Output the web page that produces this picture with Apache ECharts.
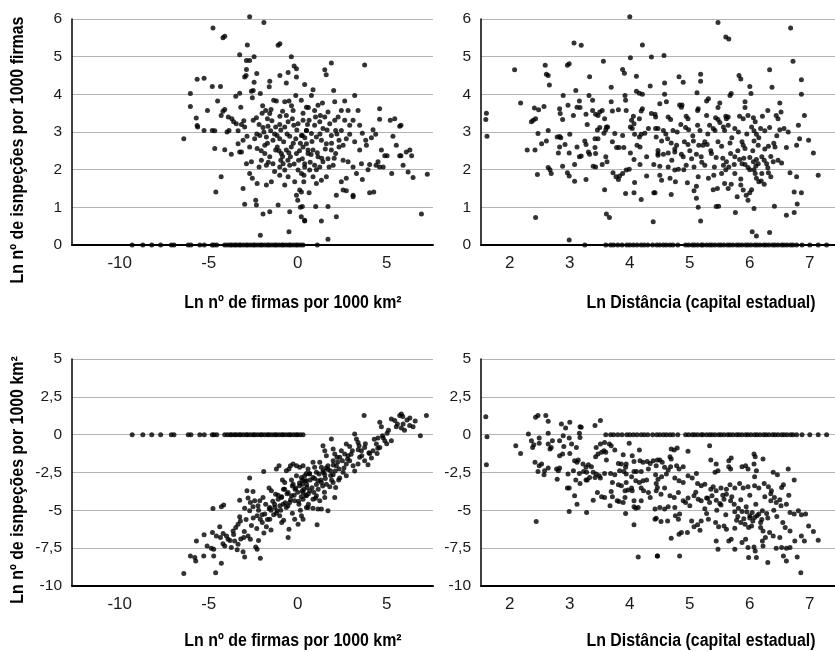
<!DOCTYPE html>
<html>
<head>
<meta charset="utf-8">
<title>Inspeções - dispersão</title>
<script src="https://cdn.jsdelivr.net/npm/echarts@6/dist/echarts.min.js"></script>
<style>
  html, body { margin: 0; padding: 0; background: #fff; }
  #chart { width: 835px; height: 652px; }
</style>
</head>
<body>
<div id="chart"></div>
<script>
// tick labels
const firmasTicks = [-10, -5, 0, 5];
const distTicks = [2, 3, 4, 5, 6, 7];

// x of the municipalities with zero inspections (drawn on the 0 line)
const zeroFirmas = [-9.3, -8.7, -8.2, -7.7, -7.1, -6.95, -6.15, -6.0, -5.5, -5.25, -4.8, -4.7, -4.55, -4.1, -3.95, -3.8, -3.7, -3.55, -3.45, -3.3, -3.2, -3.05, -2.9, -2.8, -2.65, -2.5, -2.4, -2.25, -2.1, -2.0, -1.85, -1.7, -1.6, -1.45, -1.3, -1.2, -1.05, -0.9, -0.8, -0.65, -0.5, -0.4, -0.25, -0.1, 0.0, 0.15, 0.3];
const zeroDist = [3.6, 3.68, 3.73, 3.8, 3.87, 3.95, 4.0, 4.06, 4.12, 4.19, 4.24, 4.3, 4.38, 4.45, 4.5, 4.56, 4.61, 4.67, 4.72, 4.8, 4.93, 4.98, 5.04, 5.08, 5.13, 5.19, 5.22, 5.28, 5.33, 5.37, 5.42, 5.48, 5.52, 5.57, 5.63, 5.67, 5.72, 5.78, 5.82, 5.87, 5.93, 5.97, 6.02, 6.08, 6.12, 6.17, 6.23, 6.27, 6.32, 6.38, 6.42, 6.47, 6.53, 6.57, 6.62, 6.68, 6.72, 6.78, 6.87, 7.0, 7.14, 7.28];

// Ln firmas por 1000 km2 x Ln inspecoes por 1000 firmas
const firmasInspFirmas = [
  [-2.7,6.06],[-1.9,5.91],[-4.76,5.76],[-4.2,5.5],[-4.1,5.54],[-2.83,5.31],[-1.0,5.34],[-1.1,5.3],[-3.26,5.05],[-2.45,5.0],
  [-2.88,4.9],[-2.7,4.9],[-0.36,5.0],[-0.2,4.75],[-0.07,4.68],[-2.88,4.66],[-2.3,4.55],[-2.98,4.46],[-2.9,4.5],[-0.54,4.58],
  [-1.0,4.5],[-5.65,4.4],[-5.26,4.43],[-4.8,4.21],[-4.34,4.21],[-2.45,4.32],[-1.57,4.35],[-1.6,4.2],[-0.64,4.3],[-0.07,4.46],
  [-2.6,4.08],[-2.5,4.1],[-3.26,4.03],[-3.48,3.95],[-2.1,4.02],[-6.03,4.02],[-6.03,3.68],[-4.5,3.82],[-3.2,3.66],[-5.07,3.57],
  [-4.2,3.55],[-4.1,3.6],[-4.3,3.44],[-5.7,3.37],[-5.65,3.17],[-5.62,3.13],[-5.26,3.04],[-4.8,3.04],[-4.66,3.03],[-6.4,2.82],
  [-3.9,3.4],[-3.7,3.35],[-3.6,3.27],[-3.45,3.22],[-3.86,3.04],[-3.97,3.0],[-3.16,3.2],[-3.03,3.3],[-4.66,2.56],[-4.1,2.53],
  [-3.73,2.41],[-3.35,2.69],[-3.26,2.47],[-3.16,2.47],[-4.3,1.81],[-4.6,1.41],[-3.07,1.5],[-2.98,1.08],[-2.36,1.19],[-2.32,1.06],
  [-1.95,0.82],[-1.57,0.88],[-2.1,0.26],[-0.49,0.35],[-0.45,0.88],[-1.1,1.06],[0.0,1.19],[0.15,1.0],[0.2,0.75],[0.39,0.64],
  [-2.55,3.91],[-1.97,3.7],[-1.8,3.57],[-1.35,3.84],[-1.2,3.82],[-0.73,3.8],[-0.49,3.82],[-0.11,3.97],[-0.26,3.57],[-0.64,3.44],
  [-1.0,3.42],[-1.57,3.49],[-1.7,3.35],[-2.32,3.38],[-2.5,3.31],[-2.17,3.2],[-1.95,3.12],[-1.67,3.15],[-1.52,3.03],[-1.24,3.13],
  [-1.01,3.2],[-0.73,3.13],[-0.54,3.27],[-0.22,3.18],[0.02,3.22],[0.3,3.31],[0.49,3.04],[0.21,2.91],[-0.11,2.82],[-0.45,2.89],
  [-0.79,2.74],[-1.01,2.82],[-1.39,2.78],[-1.76,2.87],[-2.13,2.91],[-2.42,2.82],[-2.7,2.6],[-2.28,2.56],[-1.85,2.43],[-1.57,2.34],
  [-1.24,2.52],[-0.92,2.43],[-0.64,2.52],[-0.41,2.34],[-0.07,2.43],[0.26,2.29],[0.58,2.52],[0.39,2.07],[0.02,1.99],[-0.45,2.12],
  [-0.73,1.99],[-1.01,2.07],[-1.39,2.16],[-1.76,2.12],[-2.04,2.25],[-2.6,2.21],[-2.88,2.16],[-2.7,1.9],[-2.55,1.77],[-2.28,1.63],
  [-1.76,1.59],[-1.48,1.68],[-1.01,1.85],[-0.73,1.59],[-0.54,1.81],[-0.17,1.68],[0.11,1.46],[-0.07,1.32],[-2.17,2.07],[-1.85,2.65],
  [-1.16,2.91],[-0.36,2.6],[-0.82,2.16],[0.49,2.69],[-3.35,3.03],[-2.98,3.13],[-2.85,2.89],[-3.07,2.78],
  [1.89,4.83],[3.76,4.78],[1.52,4.65],[1.6,4.52],[0.39,4.26],[0.86,4.12],[2.02,4.1],[3.2,3.97],[1.39,3.77],[2.08,3.8],
  [2.64,3.82],[4.6,3.62],[4.6,3.34],[5.2,3.31],[5.45,3.35],[5.73,3.15],[5.8,3.18],[5.35,2.89],[4.23,3.06],[4.38,2.94],
  [5.54,2.65],[6.1,2.47],[6.3,2.52],[5.8,2.37],[5.73,2.37],[6.4,2.37],[5.92,2.12],[6.2,1.94],[6.48,1.79],[7.28,1.88],
  [5.28,1.9],[4.8,2.07],[4.6,2.07],[4.4,2.12],[4.04,2.14],[3.95,2.0],[3.58,2.16],[3.63,1.74],[4.04,1.39],[4.27,1.41],
  [3.11,1.32],[3.11,1.28],[2.55,1.46],[2.73,1.44],[2.17,1.32],[6.95,0.82],[2.17,0.75],[1.33,0.64],[1.7,0.15],[1.01,1.02],
  [1.7,1.02],[0.64,1.39],[0.39,0.66],[0.26,1.02],[1.1,0],
  [0.2,3.84],[0.49,3.66],[0.77,3.97],[0.95,3.57],[1.14,3.71],[1.27,3.44],[1.52,3.4],[1.7,3.53],[1.8,3.22],[2.08,3.31],
  [2.27,3.4],[2.45,3.57],[2.64,3.31],[2.83,3.57],[2.92,3.18],[3.11,3.31],[3.39,3.57],[3.48,3.18],[3.63,2.97],[3.82,2.78],
  [3.86,2.65],[2.92,2.94],[2.73,2.82],[2.55,2.65],[2.32,2.6],[2.13,2.43],[1.89,2.52],[1.61,2.69],[1.33,2.78],[1.05,2.87],
  [0.77,2.96],[0.49,3.04],[0.26,2.91],[0.3,2.6],[0.58,2.43],[0.86,2.52],[1.14,2.34],[1.42,2.21],[1.7,2.29],[1.99,2.12],
  [1.76,2.07],[1.24,2.07],[0.95,2.12],[0.67,1.99],[0.39,2.16],[0.21,1.9],[0.34,1.68],[0.86,1.81],[1.05,1.63],[1.33,1.72],
  [1.61,1.81],[0.21,1.41],[2.55,2.25],[2.83,2.21],[3.11,2.07],[3.3,1.9],[2.45,1.68],[2.73,1.77],[4.7,2.52],[4.89,2.37],
  [5.02,2.37],[4.51,2.21],[4.14,2.85],[3.48,2.52],[3.2,2.74],[1.89,2.91],[1.42,3.09],[2.13,3.04],[2.45,3.04],[2.32,2.78],
  [0.64,3.31],[0.95,3.18],[1.24,3.27],
  [-1.9,3.0],[-1.7,2.7],[-1.45,3.3],[-1.3,2.95],[-1.15,2.6],[-0.95,3.05],[-0.85,2.35],[-0.6,2.95],[-0.5,2.45],[-0.3,3.35],
  [-0.25,2.7],[-0.05,3.05],[0.05,2.25],[0.15,2.7],[0.4,2.85],[0.55,3.2],[0.7,2.2],[0.8,2.75],[1.0,3.4],[1.1,2.45],
  [1.25,2.95],[1.35,2.3],[1.55,2.55],[1.65,3.05],[1.9,2.7],[2.05,2.3],[2.2,2.95],[-2.3,2.95],[-2.05,2.5],[-1.65,2.2],
  [-1.3,1.95],[-0.95,2.25],[-0.55,2.25],[-0.2,2.15],[0.1,2.5],[0.35,1.85],[0.75,2.4],[1.05,2.0],[-1.5,3.6],[-0.85,3.55],
  [-0.35,3.7],[0.3,3.5],[0.6,3.65],[-2.0,3.5],[-1.05,2.5]
];

// Ln distancia x Ln inspecoes por 1000 firmas
const distInspFirmas = [
  [4.0,6.06],[3.07,5.36],[3.19,5.3],[4.21,5.31],[2.08,4.65],[2.59,4.77],[2.96,4.77],[2.99,4.81],[2.61,4.53],[2.64,4.5],
  [2.66,4.25],[3.56,4.88],[3.88,4.66],[3.91,4.56],[4.01,4.97],[4.36,4.99],[3.33,4.47],[4.11,4.48],[4.34,4.22],[3.69,4.19],
  [3.1,4.1],[2.89,3.97],[3.32,3.97],[3.92,3.97],[4.11,4.08],[4.16,4.03],[4.21,4.0],[2.18,3.77],[1.61,3.5],[1.6,3.33],
  [1.62,2.89],[2.41,3.64],[2.48,3.59],[2.57,3.68],[2.39,3.31],[2.43,3.35],[2.36,3.27],[2.83,3.62],[2.84,3.49],[2.88,3.33],
  [2.97,3.71],[3.06,3.44],[3.12,3.66],[3.17,3.65],[3.16,3.82],[3.27,3.47],[3.29,3.2],[3.38,3.84],[3.38,3.57],[3.43,3.47],
  [3.47,3.44],[3.5,3.53],[3.54,3.57],[3.58,3.35],[3.63,3.13],[3.6,3.06],[3.69,3.8],[3.71,3.56],[3.81,3.59],[3.93,3.84],
  [3.94,3.57],[4.03,3.31],[4.06,3.42],[4.07,3.22],[4.16,3.35],[4.21,3.62],[4.19,3.56],[4.36,3.49],[4.42,3.47],[2.47,2.96],
  [2.64,3.04],[2.79,2.87],[2.85,2.85],[2.83,2.88],[3.0,2.94],[2.53,2.69],[2.61,2.76],[2.42,2.52],[2.29,2.52],[2.83,2.6],
  [2.92,2.67],[2.81,2.44],[2.99,2.44],[3.12,2.6],[3.16,2.34],[3.19,2.36],[3.25,2.76],[3.27,2.67],[3.31,2.47],[3.33,2.41],
  [3.43,2.43],[3.42,2.82],[3.46,3.05],[3.5,3.12],[3.57,2.97],[3.61,3.13],[3.42,2.59],[3.47,2.82],[3.75,2.96],[3.71,2.74],
  [3.78,2.59],[3.82,2.59],[3.9,2.59],[3.88,2.91],[4.01,3.13],[4.04,3.09],[4.08,2.94],[4.16,2.87],[4.19,2.94],[4.25,2.97],
  [4.17,2.6],[4.12,2.65],[4.01,2.44],[4.07,2.27],[4.17,2.14],[3.6,2.34],[3.62,2.21],[3.54,2.14],[3.39,2.09],[3.43,2.07],
  [3.08,2.14],[2.88,2.09],[2.64,2.06],[2.67,2.0],[2.69,1.9],[2.46,1.87],[2.96,1.92],[2.99,1.83],[3.08,1.69],[3.27,1.74],
  [3.58,1.47],[3.72,1.92],[3.77,1.81],[3.81,1.74],[3.83,1.83],[3.88,1.9],[3.94,1.99],[3.99,2.01],[3.93,1.37],[4.07,1.39],
  [4.08,1.66],[4.19,1.21],[4.28,1.83],[4.4,2.14],[4.4,1.39],[4.39,0.62],[2.43,0.73],[3.61,0.82],[3.66,0.73],[2.99,0.13],
  [4.28,2.34],[4.44,2.87],[4.43,3.09],[4.31,3.09],[4.47,2.51],[4.47,2.38],[3.25,0],
  [5.47,5.91],[5.6,5.52],[5.65,5.47],[6.68,5.76],[4.57,5.03],[6.72,4.88],[5.18,4.53],[5.18,4.35],[4.82,4.47],[4.89,4.32],
  [4.58,4.3],[5.82,4.5],[5.85,4.41],[6.33,4.65],[6.86,4.39],[6.37,4.19],[6.0,4.21],[6.02,4.02],[5.67,3.97],[5.69,4.02],
  [5.12,4.04],[4.58,4.0],[6.86,4.0],[4.5,3.75],[4.61,3.8],[5.31,3.88],[5.28,3.82],[5.5,3.77],[5.47,3.65],[4.83,3.72],
  [4.86,3.66],[4.87,3.72],[5.14,3.62],[5.13,3.57],[5.92,3.8],[5.92,3.65],[6.5,3.77],[6.52,3.53],[4.43,3.4],[4.64,3.4],
  [4.68,3.33],[4.94,3.42],[4.97,3.35],[5.28,3.44],[5.43,3.38],[5.47,3.33],[5.6,3.42],[5.61,3.35],[5.64,3.4],[5.83,3.42],
  [5.89,3.35],[5.97,3.44],[6.06,3.38],[6.09,3.27],[6.21,3.42],[6.3,3.57],[6.44,3.44],[6.47,3.35],[6.91,3.44],[6.81,3.18],
  [4.47,3.09],[4.56,3.04],[4.72,3.04],[4.79,3.0],[4.93,3.12],[4.98,3.06],[5.13,3.18],[5.17,3.04],[5.33,3.18],[5.39,3.09],
  [5.42,3.04],[5.56,3.13],[5.58,3.04],[5.64,3.18],[5.75,3.09],[5.81,3.0],[6.03,3.13],[6.07,3.03],[6.11,2.94],[6.18,3.09],
  [6.25,3.03],[6.33,3.12],[6.5,3.06],[6.57,3.09],[6.64,3.0],[6.83,2.82],[6.98,2.78],[6.78,2.65],[7.06,2.44],[4.53,2.76],
  [4.63,2.82],[4.69,2.71],[4.78,2.65],[4.91,2.74],[4.97,2.67],[5.06,2.76],[5.22,2.65],[5.25,2.74],[5.29,2.67],[5.47,2.74],
  [5.53,2.62],[5.67,2.71],[5.68,2.43],[5.87,2.74],[5.89,2.65],[5.92,2.56],[6.07,2.76],[6.14,2.65],[6.31,2.62],[6.42,2.6],
  [6.61,2.59],[4.47,2.43],[4.56,2.41],[4.64,2.44],[4.75,2.47],[4.86,2.41],[4.89,2.34],[5.03,2.29],[5.11,2.41],[5.19,2.34],
  [5.36,2.43],[5.44,2.32],[5.75,2.34],[5.83,2.27],[5.87,2.16],[6.0,2.32],[6.06,2.21],[6.11,2.27],[6.14,2.16],[6.2,2.34],
  [6.24,2.25],[6.28,2.16],[6.39,2.21],[6.47,2.25],[6.53,2.18],[4.5,2.09],[4.64,2.07],[4.75,1.99],[4.81,2.01],[4.94,2.12],
  [5.07,2.07],[5.25,2.12],[5.41,2.07],[5.56,2.12],[5.61,2.21],[5.65,2.07],[5.74,2.14],[5.92,2.14],[5.97,2.06],[6.07,2.0],
  [6.09,1.9],[6.31,1.92],[6.35,1.81],[6.67,1.92],[6.78,1.81],[7.14,1.85],[4.5,1.85],[4.53,1.72],[4.67,1.77],[4.76,1.68],
  [4.96,1.65],[5.11,1.56],[5.14,1.81],[5.31,1.77],[5.39,1.47],[5.46,1.5],[5.53,1.9],[5.58,1.63],[5.64,1.5],[5.69,1.61],
  [5.75,1.9],[5.79,1.28],[5.85,1.59],[5.89,1.46],[5.94,1.32],[5.97,1.19],[6.0,1.39],[6.03,1.47],[6.11,1.77],[6.15,1.68],
  [6.19,1.7],[6.24,1.61],[5.07,1.44],[5.11,1.24],[5.14,1.0],[4.69,1.34],[4.42,1.39],[5.18,0.64],[5.44,1.02],[5.48,1.03],
  [5.76,0.86],[6.07,0.97],[6.41,1.03],[6.61,0.79],[6.74,0.86],[6.79,1.09],[6.74,1.41],[6.86,1.39],[6.04,0.35],[6.11,0.24],
  [6.33,0.33],
  [4.6,2.95],[4.75,2.55],[4.85,3.2],[5.0,2.5],[5.05,2.9],[5.2,2.2],[5.3,2.95],[5.35,2.5],[5.5,3.25],[5.55,2.3],
  [5.7,2.85],[5.8,2.5],[5.95,2.95],[6.0,2.0],[6.05,2.5],[6.15,2.85],[6.2,1.9],[6.25,2.55],[6.35,2.35],[6.45,2.9],
  [5.4,1.85],[5.85,1.75],[6.1,2.1],[6.3,2.05],[4.9,2.0],[5.15,2.65],[5.6,2.0],[5.9,2.3],[6.4,2.7],[4.7,2.25]
];

// Ln firmas por 1000 km2 x Ln inspecoes por 1000 km2
const firmasInspKm = [
  [-6.4,-9.18],[-4.61,-9.12],[-6.03,-8.01],[-5.78,-8.12],[-5.73,-8.34],[-5.28,-8.01],[-4.72,-8.01],[-4.29,-8.5],[-5.69,-7.02],[-5.26,-6.62],
  [-5.09,-7.35],[-4.85,-7.51],[-4.72,-7.57],[-4.79,-6.47],[-4.38,-6.09],[-4.57,-6.69],[-4.34,-6.8],[-4.19,-6.53],[-4.1,-7.35],[-3.73,-7.46],
  [-3.91,-6.91],[-4.0,-6.69],[-3.63,-6.36],[-3.48,-6.14],[-3.35,-5.92],[-3.22,-5.7],[-3.26,-5.43],[-3.03,-6.8],[-2.79,-6.69],[-2.66,-6.91],
  [-3.07,-7.73],[-2.98,-8.08],[-3.35,-7.24],[-3.54,-7.02],[-2.36,-7.42],[-2.28,-7.57],[-2.1,-8.17],[-4.76,-4.88],[-4.29,-4.77],[-4.16,-4.64],
  [-2.7,-2.87],[-3.26,-4.33],[-2.85,-3.71],[-2.51,-3.75],[-2.79,-4.19],[-2.66,-4.48],[-2.42,-4.37],[-2.98,-4.86],[-2.7,-5.03],[-2.51,-4.77],
  [-2.23,-4.7],[-2.13,-4.37],[-1.95,-4.15],[-2.28,-5.36],[-2.1,-5.59],[-1.85,-5.25],[-1.99,-5.81],[-1.76,-6.09],[-1.57,-5.59],[-1.35,-5.3],
  [-1.16,-5.03],[-1.91,-2.43],[-1.61,-3.53],[-1.48,-3.71],[-1.24,-3.93],[-1.1,-4.26],[-0.92,-4.15],[-1.2,-2.27],[-1.05,-2.05],[-0.86,-3.0],
  [-0.73,-3.16],[-0.64,-2.38],[-0.49,-2.27],[-0.41,-2.05],[-0.26,-1.94],[-0.07,-2.05],[0.11,-2.16],[0.3,-2.05],[-0.73,-3.6],[-0.54,-3.82],
  [-0.36,-4.04],[-0.82,-4.59],[-0.64,-4.81],[-0.45,-4.48],[-1.29,-4.81],[-1.57,-4.81],[-1.01,-5.36],[-0.79,-5.65],[-0.49,-6.25],[-0.54,-6.8],
  [-0.17,-5.59],[0.02,-5.92],[-0.26,-3.27],[-0.11,-3.53],[0.11,-3.38],[0.26,-3.71],[0.39,-3.05],[0.52,-3.49],[-0.17,-4.37],[0.07,-4.59],
  [0.3,-4.26],[0.49,-4.81],[-0.07,-2.72],[0.21,-2.83],[0.49,-2.56],
  [3.73,1.26],[7.23,1.26],[4.61,0.82],[4.7,0.53],[5.26,1.04],[5.45,0.93],[5.73,1.26],[5.82,1.37],[5.54,0.53],[5.82,0.44],
  [5.92,0.71],[6.14,0.97],[6.29,0.6],[6.48,0.53],[6.89,-0.07],[1.89,-0.29],[3.2,0.04],[3.3,-0.29],[3.39,-0.51],[3.45,-0.73],
  [3.58,-1.06],[3.76,-0.84],[4.51,-0.22],[4.76,-0.07],[4.89,-0.4],[4.42,-0.62],[4.61,-0.84],[4.23,-1.06],[4.46,-1.24],[5.02,0.09],
  [5.26,-0.4],[4.04,-1.24],[4.14,-1.55],[2.73,-0.62],[2.92,-0.79],[3.07,-1.06],[2.45,-1.06],[2.64,-1.28],[2.83,-1.39],[2.36,-1.5],
  [2.51,-1.72],[2.73,-1.94],[2.92,-1.72],[3.11,-2.05],[3.39,-1.94],[3.48,-1.5],[3.76,-1.72],[3.95,-1.99],[1.99,-0.95],[2.08,-1.28],
  [2.21,-1.5],[1.42,-0.73],[1.52,-1.06],[1.61,-1.39],[1.99,-1.72],[2.17,-2.05],[2.32,-2.27],[1.7,-2.05],[1.84,-2.38],[1.99,-2.65],
  [1.24,-1.83],[1.33,-2.16],[1.42,-2.38],[1.52,-2.65],[0.86,-1.83],[0.95,-2.16],[1.05,-2.49],[0.58,-2.27],[0.67,-2.56],[0.86,-2.83],
  [1.14,-3.05],[0.39,-2.72],[0.49,-3.05],[0.26,-3.27],[1.33,-3.16],[1.61,-3.27],[1.8,-3.44],[1.99,-3.16],[2.13,-3.49],[2.36,-2.87],
  [2.55,-2.49],[2.73,-2.72],[0.3,-3.82],[0.49,-4.04],[0.67,-3.71],[0.86,-4.26],[1.05,-4.04],[1.24,-4.37],[1.52,-4.15],[1.7,-5.03],
  [2.08,-4.15],[0.58,-4.81],[0.86,-4.86],[1.14,-4.92],[1.33,-4.92],[0.21,-5.36],[0.3,-5.59],[1.09,-5.96],
  [-1.8,-4.6],[-1.6,-4.9],[-1.4,-4.4],[-1.2,-5.2],[-1.0,-4.7],[-0.9,-4.1],[-0.7,-4.5],[-0.6,-3.9],[-0.4,-4.3],[-0.3,-3.4],
  [-0.2,-4.0],[0.0,-3.8],[0.1,-3.2],[0.2,-4.1],[0.35,-3.6],[0.5,-3.3],[0.6,-3.9],[0.7,-3.0],[0.8,-3.5],[0.95,-2.9],
  [1.05,-3.3],[1.2,-2.6],[1.3,-3.0],[1.45,-2.5],[1.55,-2.9],[1.7,-2.3],[1.85,-2.7],[2.0,-2.0],[2.1,-2.4],[2.25,-1.8],
  [-2.2,-5.0],[-2.0,-5.3],[-1.7,-5.6],[-1.5,-5.0],[-1.3,-4.6],[-1.1,-4.0],[-0.95,-5.0],[-0.8,-3.6],[-0.55,-4.7],[-0.35,-3.0],
  [-0.15,-3.6],[0.05,-4.4],[0.25,-3.0],[0.45,-4.0],[0.65,-2.6],[0.9,-3.8],[1.15,-3.6],[1.4,-3.4],[1.6,-2.2],[1.9,-3.0],
  [-2.5,-5.5],[-2.3,-6.2],[-2.6,-6.0],[-3.0,-6.4],[-3.2,-6.9],[-2.9,-5.6],[-1.9,-6.5],[-3.6,-6.6],[-3.8,-7.0],[-4.2,-7.2],
  [-3.4,-7.6],[-2.2,-7.0],[-1.5,-6.3],[-0.9,-5.8],[-0.3,-5.2],[0.15,-5.0],[0.6,-4.6],[1.0,-4.2],[1.5,-3.8],[2.3,-3.0],
  [2.6,-2.2],[2.8,-1.6],[3.0,-1.3],[3.2,-2.4],[3.4,-1.0],[3.6,-1.4],[3.8,-0.6],[4.0,-1.2],[4.3,-0.3],[4.5,-0.9],
  [4.8,-0.2],[5.0,-0.6],[5.1,0.3],[5.6,0.7],[6.0,0.3],[6.3,1.1],[6.6,0.9],[5.9,1.2]
];

// Ln distancia x Ln inspecoes por 1000 km2
const distInspKm = [
  [1.6,1.19],[1.62,-0.13],[1.61,-1.99],[2.43,1.15],[2.47,1.26],[2.6,1.26],[2.64,0.88],[2.86,0.71],[2.93,0.44],[3.0,0.82],
  [3.17,0.53],[3.19,0.49],[3.42,0.6],[3.51,0.93],[2.31,0.04],[2.1,-0.73],[2.18,-1.24],[2.36,-0.4],[2.38,-0.84],[2.4,-0.66],
  [2.49,-0.22],[2.49,-0.57],[2.64,0.09],[2.64,-0.62],[2.67,-0.95],[2.69,-0.84],[2.71,-0.4],[2.83,-0.4],[2.89,-0.07],[2.9,-0.79],
  [2.88,-1.28],[2.99,-0.22],[3.03,-0.62],[3.11,-0.84],[3.17,-0.18],[3.16,0.09],[2.83,-1.39],[3.0,-1.24],[2.42,-1.83],[2.49,-2.05],
  [2.53,-1.94],[2.58,-2.38],[2.64,-2.21],[2.47,-2.43],[2.57,-2.65],[2.78,-2.27],[2.81,-2.38],[2.83,-2.21],[2.79,-2.94],[2.97,-2.6],
  [2.99,-3.53],[3.08,-1.72],[3.12,-1.83],[3.14,-1.68],[3.1,-3.0],[3.17,-3.22],[3.06,-2.38],[3.16,-2.56],[3.22,-1.94],[3.27,-2.16],
  [3.23,-2.43],[3.28,-2.49],[3.31,-1.99],[3.36,-2.12],[3.39,-2.49],[3.42,-2.83],[3.33,-2.83],[3.27,-3.0],[3.44,-2.6],[3.49,-2.72],
  [3.51,-2.87],[3.43,-1.46],[3.47,-1.28],[3.53,-1.17],[3.57,-1.06],[3.6,-1.17],[3.44,-0.84],[3.51,-0.62],[3.58,-0.51],[3.66,-0.62],
  [3.69,-0.73],[3.75,-1.02],[3.61,-1.68],[3.58,-2.56],[3.68,-2.56],[3.75,-2.65],[3.71,-3.16],[3.46,-3.82],[3.53,-4.11],[3.58,-4.15],
  [3.39,-4.33],[3.29,-3.0],[3.69,-3.75],[3.71,-4.11],[3.67,-4.7],[3.79,-4.37],[3.82,-4.42],[3.89,-4.48],[3.08,-4.04],[3.12,-4.59],
  [2.96,-3.53],[2.99,-5.08],[3.28,-5.14],[2.44,-5.74],[3.81,-1.9],[3.86,-1.94],[3.94,-1.94],[3.89,-1.32],[3.99,-0.57],[4.04,-1.39],
  [4.07,-1.77],[3.83,-2.38],[3.9,-2.43],[3.93,-2.16],[3.94,-2.6],[4.03,-2.78],[4.07,-2.43],[4.16,-1.02],[4.17,-1.72],[4.22,-1.83],
  [4.29,-1.77],[4.34,-1.9],[4.1,-3.05],[4.16,-3.16],[4.22,-3.05],[4.28,-3.0],[4.11,-2.43],[4.19,-2.43],[3.81,-3.31],[3.86,-3.38],
  [3.94,-3.16],[3.92,-3.71],[3.97,-3.66],[4.03,-3.53],[4.04,-3.71],[4.07,-4.37],[4.19,-3.53],[4.23,-3.71],[4.31,-3.82],[3.92,-4.15],
  [4.07,-4.77],[4.1,-4.86],[4.14,-4.81],[4.19,-4.37],[3.93,-5.21],[4.07,-5.96],[4.14,-8.08],[4.43,-2.65],[4.44,-3.22],[4.46,-3.49],
  [4.34,-4.15],[4.42,-4.92],[4.42,-5.59],[4.46,-8.01],[4.39,-1.72],[4.46,-1.68],[4.31,-2.27],
  [5.33,-0.73],[5.69,-1.55],[5.65,-1.72],[6.07,-1.28],[6.09,-1.46],[6.22,-1.61],[4.69,-0.95],[4.74,-1.02],[4.79,-0.88],[4.97,-1.1],
  [4.5,-1.68],[4.54,-1.83],[4.44,-2.05],[4.67,-1.46],[4.69,-1.61],[4.58,-2.16],[4.64,-2.34],[4.68,-2.12],[4.78,-2.05],[4.82,-2.27],
  [4.89,-2.12],[5.35,-1.68],[5.44,-1.94],[5.47,-2.38],[5.42,-2.49],[5.65,-2.12],[5.68,-2.27],[5.87,-2.12],[5.93,-2.05],[5.97,-2.27],
  [6.07,-1.94],[6.11,-2.38],[6.08,-2.78],[6.39,-2.49],[6.46,-2.65],[6.64,-2.27],[6.74,-3.0],[6.56,-3.31],[6.53,-3.49],[4.47,-2.94],
  [4.53,-2.78],[4.61,-2.6],[4.75,-2.87],[4.82,-3.05],[4.89,-3.16],[4.97,-2.72],[5.04,-2.87],[5.11,-2.56],[5.13,-3.22],[5.19,-3.38],
  [5.25,-3.27],[5.39,-3.44],[5.44,-3.71],[5.52,-3.53],[5.61,-3.6],[5.67,-3.31],[5.75,-3.53],[5.83,-3.22],[5.89,-3.53],[5.97,-3.44],
  [6.08,-3.38],[6.15,-3.53],[6.24,-3.22],[6.31,-3.44],[6.36,-3.71],[4.44,-3.71],[4.52,-3.93],[4.58,-3.53],[4.67,-4.04],[4.74,-4.15],
  [4.81,-3.82],[4.89,-4.37],[4.93,-4.48],[4.97,-4.19],[5.07,-4.04],[5.14,-4.26],[5.19,-4.37],[5.28,-4.19],[5.33,-4.48],[5.37,-4.04],
  [5.44,-4.33],[5.52,-4.64],[5.57,-4.26],[5.61,-3.93],[5.68,-4.37],[5.74,-4.59],[5.81,-4.86],[5.87,-5.08],[5.94,-4.77],[6.0,-5.36],
  [6.04,-5.14],[6.08,-5.47],[6.15,-5.25],[6.21,-5.03],[6.28,-5.21],[6.35,-4.37],[6.41,-4.15],[6.44,-4.48],[6.52,-4.7],[6.61,-4.59],
  [6.67,-5.14],[6.74,-5.25],[6.81,-5.03],[6.86,-5.3],[6.93,-5.25],[4.5,-4.81],[4.58,-4.92],[4.64,-4.77],[4.75,-4.81],[4.83,-5.25],
  [4.44,-5.52],[4.52,-5.74],[4.63,-5.7],[4.76,-5.36],[4.81,-5.59],[5.03,-5.7],[5.07,-6.09],[5.13,-5.96],[5.17,-6.31],[5.19,-5.7],
  [5.28,-5.21],[5.31,-5.59],[5.43,-5.81],[5.48,-6.09],[5.57,-6.03],[5.61,-6.25],[5.75,-6.18],[5.78,-5.65],[5.85,-5.81],[5.92,-5.92],
  [5.98,-6.14],[6.03,-6.03],[6.18,-6.14],[6.22,-6.36],[6.26,-6.8],[6.33,-6.47],[6.39,-6.69],[6.5,-6.8],[6.59,-6.14],[6.67,-6.36],
  [6.86,-6.69],[6.91,-7.02],[6.98,-6.03],[7.06,-6.4],[7.14,-6.98],[4.69,-6.84],[4.82,-6.58],[4.86,-6.47],[4.96,-6.47],[5.44,-7.02],
  [5.47,-7.57],[5.65,-7.02],[5.69,-6.91],[5.75,-7.57],[5.87,-7.13],[5.93,-6.91],[5.97,-7.46],[6.07,-7.42],[6.09,-7.68],[6.21,-7.02],
  [6.22,-7.35],[6.44,-7.51],[6.53,-7.46],[6.61,-7.51],[6.67,-7.46],[6.75,-7.02],[5.98,-8.12],[6.11,-8.12],[6.3,-8.45],[6.56,-8.01],
  [6.61,-8.34],[6.79,-8.08],[6.85,-9.12],[4.46,-8.01],[4.83,-8.01],
  [5.0,-4.7],[5.1,-3.8],[5.25,-4.9],[5.35,-3.6],[5.45,-5.0],[5.55,-4.0],[5.6,-5.3],[5.7,-4.1],[5.8,-5.4],[5.85,-4.3],
  [5.95,-5.1],[6.0,-4.0],[6.05,-5.7],[6.1,-4.6],[6.2,-5.6],[6.25,-4.1],[6.3,-5.5],[6.35,-3.9],[6.45,-5.4],[6.5,-4.3],
  [5.9,-5.55],[6.0,-5.5],[6.12,-5.35],[6.18,-5.8],[5.75,-5.1],[5.5,-4.55],[5.3,-4.2],[6.4,-5.0],[6.55,-5.8],[6.65,-4.0]
];

const LABEL_FONT = "'Liberation Sans', Arial, sans-serif";

function withZeros(points, zeros) {
  return points.concat(zeros.map(function (x) { return [x, 0]; }));
}

function xAxisOf(gridIndex, min, max, ticks) {
  return {
    gridIndex: gridIndex,
    type: 'value',
    min: min,
    max: max,
    axisLine: { show: true, onZero: false, lineStyle: { color: '#000', width: 2 } },
    axisTick: { show: false },
    splitLine: { show: false },
    axisLabel: { customValues: ticks, margin: 10, fontSize: 17, color: '#1a1a1a', fontFamily: LABEL_FONT }
  };
}

function yAxisOf(gridIndex, min, max, interval) {
  return {
    gridIndex: gridIndex,
    type: 'value',
    min: min,
    max: max,
    interval: interval,
    axisLine: { show: true, onZero: false, lineStyle: { color: '#000', width: 1.5 } },
    axisTick: { show: false },
    splitLine: { show: true, lineStyle: { color: '#b4b4b4', width: 1 } },
    axisLabel: {
      margin: 10, fontSize: 15.5, color: '#1a1a1a', fontFamily: LABEL_FONT,
      formatter: function (v) { return String(v).replace('.', ','); }
    }
  };
}

function scatterOf(i, data) {
  return {
    type: 'scatter',
    xAxisIndex: i,
    yAxisIndex: i,
    data: data,
    symbolSize: 5,
    clip: false,
    silent: true,
    itemStyle: { color: '#000' }
  };
}

// axis titles: bold, squeezed along the text to look like the condensed face of the original
function title(text, x, y, rotated) {
  return {
    type: 'text',
    x: x,
    y: y,
    rotation: rotated ? Math.PI / 2 : 0,
    scaleX: 0.91,
    scaleY: 1,
    style: {
      text: text,
      font: 'bold 17.5px ' + LABEL_FONT,
      fill: '#000',
      align: 'center',
      verticalAlign: 'middle',
      textAlign: 'center',
      textVerticalAlign: 'middle'
    }
  };
}

const chart = echarts.init(document.getElementById('chart'));
chart.setOption({
  animation: false,
  backgroundColor: '#fff',
  grid: [
    { left: 72, top: 19, width: 361, height: 226 },
    { left: 481, top: 19, right: 0, height: 226 },
    { left: 72, top: 359, width: 361, height: 227 },
    { left: 481, top: 359, right: 0, height: 227 }
  ],
  xAxis: [
    xAxisOf(0, -12.68, 7.6, firmasTicks),
    xAxisOf(1, 1.52, 7.42, distTicks),
    xAxisOf(2, -12.68, 7.6, firmasTicks),
    xAxisOf(3, 1.52, 7.42, distTicks)
  ],
  yAxis: [
    yAxisOf(0, 0, 6, 1),
    yAxisOf(1, 0, 6, 1),
    yAxisOf(2, -10, 5, 2.5),
    yAxisOf(3, -10, 5, 2.5)
  ],
  series: [
    scatterOf(0, withZeros(firmasInspFirmas, zeroFirmas)),
    scatterOf(1, withZeros(distInspFirmas, zeroDist)),
    scatterOf(2, withZeros(firmasInspKm, zeroFirmas)),
    scatterOf(3, withZeros(distInspKm, zeroDist))
  ],
  graphic: {
    elements: [
      title('Ln nº de isnpeções por 1000 firmas', 18, 150, true),
      title('Ln nº de isnpeções por 1000 km²', 18, 480, true),
      title('Ln nº de firmas por 1000 km²', 293, 303, false),
      title('Ln Distância (capital estadual)', 701, 303, false),
      title('Ln nº de firmas por 1000 km²', 293, 641, false),
      title('Ln Distância (capital estadual)', 701, 641, false)
    ]
  }
});
</script>
</body>
</html>
